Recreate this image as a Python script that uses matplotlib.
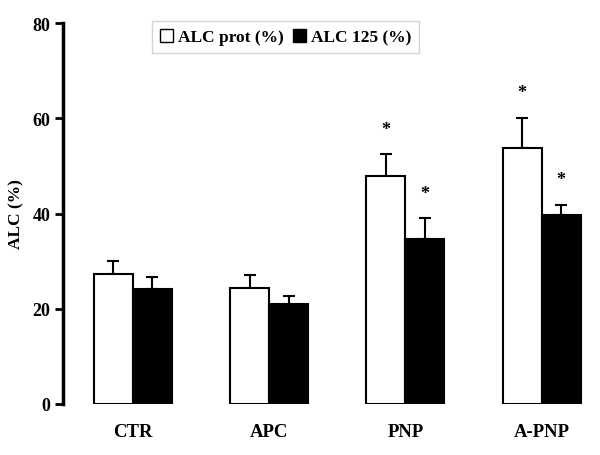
import matplotlib.pyplot as plt
import numpy as np
from matplotlib.patches import Patch

plt.rcParams["font.family"] = ["Liberation Serif", "DejaVu Serif"]
plt.rcParams["font.weight"] = "bold"

# -------- data --------
groups = ["CTR", "APC", "PNP", "A-PNP"]
alc_prot = [27.3, 24.4, 47.8, 53.8]
alc_prot_err = [2.8, 2.6, 4.7, 6.3]
alc_125 = [24.2, 20.9, 34.7, 39.7]
alc_125_err = [2.4, 1.8, 4.3, 2.2]
prot_sig = [False, False, True, True]
a125_sig = [False, False, True, True]

fig = plt.figure(figsize=(6, 4.56), dpi=100)
ax = fig.add_axes([0.105, 0.112, 0.885, 0.835])

x = np.arange(len(groups))
w = 0.286

ax.bar(x - w / 2, alc_prot, w, color="white", edgecolor="black", linewidth=1.5, zorder=2)
ax.bar(x + w / 2, alc_125, w, color="black", edgecolor="black", linewidth=1.5, zorder=2)

ax.errorbar(x - w / 2, alc_prot, yerr=[np.zeros(4), alc_prot_err], fmt="none",
            ecolor="black", elinewidth=1.5, capsize=4, capthick=1.5, zorder=1)
ax.errorbar(x + w / 2, alc_125, yerr=[np.zeros(4), alc_125_err], fmt="none",
            ecolor="black", elinewidth=1.5, capsize=4, capthick=1.5, zorder=1)

# significance stars
for xi, v, e, s in zip(x - w / 2, alc_prot, alc_prot_err, prot_sig):
    if s:
        ax.annotate("*", (xi, v + e), xytext=(0, 18), textcoords="offset points",
                    ha="center", va="center", fontsize=13, fontweight="bold")
for xi, v, e, s in zip(x + w / 2, alc_125, alc_125_err, a125_sig):
    if s:
        ax.annotate("*", (xi, v + e), xytext=(0, 18), textcoords="offset points",
                    ha="center", va="center", fontsize=13, fontweight="bold")

ax.set_xlim(-0.513, 3.385)
ax.set_ylim(0, 80)
ax.set_yticks([0, 20, 40, 60, 80])
ax.set_xticks(x)
ax.set_xticklabels(groups, fontsize=13.5, fontweight="bold")
ax.tick_params(axis="x", length=0, pad=14)
ax.tick_params(axis="y", direction="out", length=6, width=2, labelsize=13, pad=3)
for lbl in ax.get_yticklabels():
    lbl.set_fontweight("bold")

for side in ["top", "right", "bottom"]:
    ax.spines[side].set_visible(False)
ax.spines["left"].set_linewidth(2.5)

ax.set_ylabel("ALC (%)", fontsize=12.5, fontweight="bold", labelpad=6)

handles = [Patch(facecolor="white", edgecolor="black", linewidth=1),
           Patch(facecolor="black", edgecolor="black", linewidth=1)]
leg = ax.legend(handles, ["ALC prot (%)", "ALC 125 (%)"], ncol=2,
                loc="upper left", bbox_to_anchor=(0.168, 1.005),
                fontsize=12.5, frameon=True, fancybox=False,
                handlelength=0.75, handleheight=0.75, handletextpad=0.3,
                columnspacing=0.5, borderpad=0.45, borderaxespad=0)
leg.get_frame().set_edgecolor("#c8c8c8")
leg.get_frame().set_linewidth(1)
for t in leg.get_texts():
    t.set_fontweight("bold")

fig.savefig("out.png", dpi=100)
